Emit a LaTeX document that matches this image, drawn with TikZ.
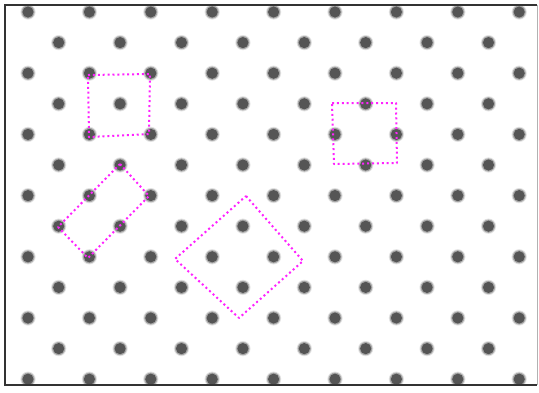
\documentclass[tikz,border=0pt]{standalone}
\usepackage{tikz}
\definecolor{dotgray}{HTML}{555555}
\definecolor{halo}{HTML}{A8A8A8}
\definecolor{haloout}{HTML}{E2E2E2}
\definecolor{pinkline}{HTML}{FF22FF}
\definecolor{framegray}{HTML}{333333}
\tikzset{
  latticedot/.style={fill=dotgray},
  dothalo/.style={fill=halo},
  dothaloout/.style={fill=haloout},
  marker/.style={draw=pinkline, line width=2pt, dash pattern=on 2pt off 2.9pt, line join=round},
}
\begin{document}
\begin{tikzpicture}[x=1pt,y=-1pt]
\useasboundingbox (0,0) rectangle (539,392);
\fill[white] (0,0) rectangle (539,392);
\begin{scope}
\clip (5,5) rectangle (537,385);
\foreach \j in {0,...,12}{
  \pgfmathsetmacro{\yy}{12+30.6*\j}
  \pgfmathtruncatemacro{\rowpar}{mod(\j,2)}
  \ifnum\rowpar=0
    \foreach \k in {0,...,8}{
      \pgfmathsetmacro{\xx}{28+61.4*\k}
      \fill[dothaloout] (\xx,\yy) circle (7.6);
      \fill[dothalo] (\xx,\yy) circle (6.6);
      \fill[latticedot] (\xx,\yy) circle (5.6);
    }
  \else
    \foreach \k in {0,...,7}{
      \pgfmathsetmacro{\xx}{58.7+61.4*\k}
      \fill[dothaloout] (\xx,\yy) circle (7.6);
      \fill[dothalo] (\xx,\yy) circle (6.6);
      \fill[latticedot] (\xx,\yy) circle (5.6);
    }
  \fi
}
\end{scope}
% frame
\draw[framegray, line width=1.8pt] (537,5) -- (5,5) -- (5,385) -- (537,385);
\draw[gray!60, line width=0.8pt] (537,5) -- (537,385);
% marker shapes
\coordinate (sa1) at (88,75);
\coordinate (sa2) at (150,74);
\coordinate (sa3) at (149,134);
\coordinate (sa4) at (89,137);
\draw[marker] (sa1) -- (sa2) -- (sa3) -- (sa4) -- cycle;
\coordinate (ra1) at (120,164);
\coordinate (ra2) at (149,196);
\coordinate (ra3) at (88,258);
\coordinate (ra4) at (58,227);
\draw[marker] (ra1) -- (ra2) -- (ra3) -- (ra4) -- cycle;
\coordinate (da1) at (246,196);
\coordinate (da2) at (303,261);
\coordinate (da3) at (239,318);
\coordinate (da4) at (175,259);
\draw[marker] (da1) -- (da2) -- (da3) -- (da4) -- cycle;
\coordinate (sb1) at (332,103);
\coordinate (sb2) at (396,103);
\coordinate (sb3) at (397,163);
\coordinate (sb4) at (334,164);
\draw[marker] (sb1) -- (sb2) -- (sb3) -- (sb4) -- cycle;
\end{tikzpicture}
\end{document}
